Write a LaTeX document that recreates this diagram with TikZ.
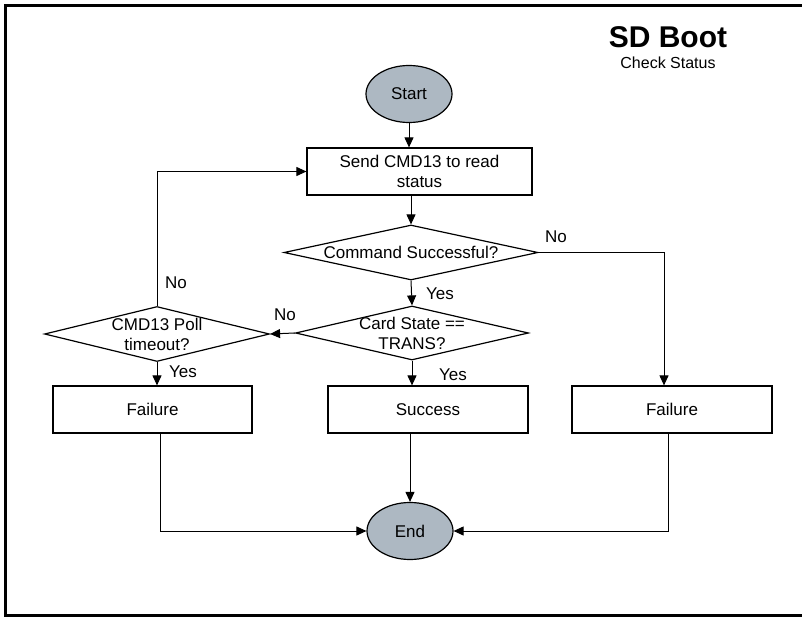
\documentclass[tikz,border=0pt]{standalone}
\usepackage{fontspec}
\setmainfont{Liberation Sans}
\usetikzlibrary{shapes.geometric, arrows.meta}

\definecolor{termgray}{RGB}{173,184,194}

\begin{document}
\begin{tikzpicture}[x=1pt, y=-1pt,
    font=\fontsize{17}{20}\selectfont,
    flow/.style={-{Triangle[length=10pt, width=9pt]}, line width=1pt},
    term/.style={ellipse, draw, line width=1.2pt, fill=termgray,
        minimum width=86pt, minimum height=57pt, inner sep=0pt},
    proc/.style={rectangle, draw, line width=1.2pt, minimum width=200pt,
        minimum height=47pt, inner sep=0pt, align=center},
    decide/.style={diamond, draw, line width=1.2pt, inner sep=0pt}
]
    \useasboundingbox (0,0) rectangle (802,617);

    % ================= 外框与标题 =================
    \draw[line width=3pt] (802,5.5) -- (5.5,5.5) -- (5.5,615.5) -- (802,615.5);
    \node[font=\fontsize{30}{34}\selectfont\bfseries] (title) at (668,37) {SD Boot};
    \node[font=\fontsize{16}{19}\selectfont] (subtitle) at (668,63) {Check Status};

    % ================= 流程节点 =================
    \node[term] (start) at (409,94) {Start};
    \node[proc, minimum width=225pt] (send) at (419.5,171.5) {Send CMD13 to read\\status};

    % 判断框 (文字另放在中心)
    \node[decide, minimum width=254pt, minimum height=55pt] (cmdok) at (411,252.5) {};
    \node (cmdoktxt) at (cmdok) {Command Successful?};
    \node[decide, minimum width=233pt, minimum height=54pt] (cardst) at (412,333) {};
    \node[align=center] (cardsttxt) at (cardst) {Card State ==\\TRANS?};
    \node[decide, minimum width=225pt, minimum height=55pt] (polltmo) at (157,334) {};
    \node[align=center] (polltmotxt) at (polltmo) {CMD13 Poll\\timeout?};

    \node[proc, minimum width=199pt] (failA) at (152.5,409.5) {Failure};
    \node[proc] (success) at (428,409.5) {Success};
    \node[proc] (failB) at (672,409.5) {Failure};

    \node[term] (finish) at (410,531) {End};

    % ================= 连线 =================
    \draw[flow] (start.south) -- (start.south |- send.north);
    \draw[flow] (cmdok.north |- send.south) -- (cmdok.north);
    \draw[flow] (cmdok.south) -- (cardst.north);
    \draw[flow] (cardst.south) -- (cardst.south |- success.north);
    \draw[flow] (cardst.west) -- (polltmo.east);
    \draw[flow] (polltmo.south) -- (polltmo.south |- failA.north);
    \draw[flow] (polltmo.north) |- (send.west);
    \draw[flow] (cmdok.east) -| ([xshift=-8pt]failB.north);

    \draw[flow] ([xshift=7.5pt]failA.south) |- (finish.west);
    \draw[flow] (finish.north |- success.south) -- (finish.north);
    \draw[flow] ([xshift=-4pt]failB.south) |- (finish.east);

    % ================= 分支标签 =================
    \node (nocmd) at (556,237) {No};
    \node (yescmd) at (440,294) {Yes};
    \node (nocard) at (285,315) {No};
    \node (yescard) at (453,375) {Yes};
    \node (yespoll) at (183,372) {Yes};
    \node (nopoll) at (176,283) {No};

\end{tikzpicture}
\end{document}
